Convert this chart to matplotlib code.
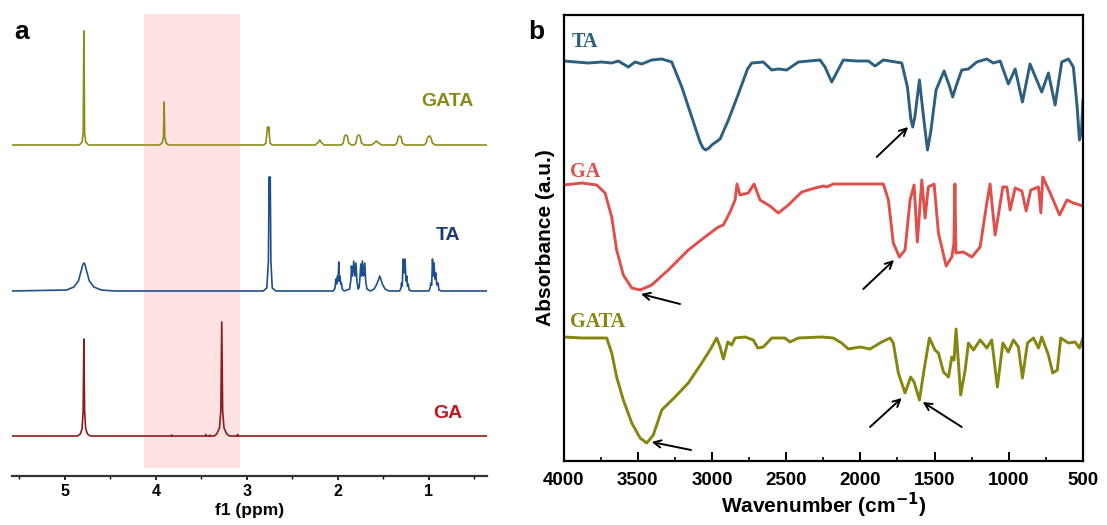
import matplotlib
matplotlib.use("Agg")
import matplotlib.pyplot as plt
from matplotlib.ticker import MultipleLocator

plt.rcParams['font.family'] = ['Liberation Sans', 'DejaVu Sans']

# ---------------- Panel a : 1H NMR (ppm, intensity relative to baseline) ----------------
gata_nmr_ppm = [5.58, 4.84, 4.81, 4.798, 4.79, 4.782, 4.77, 4.74,
                3.96, 3.93, 3.915, 3.908, 3.901, 3.886, 3.86,
                2.81, 2.79, 2.772, 2.765, 2.758, 2.745, 2.72,
                2.25, 2.22, 2.198, 2.175, 2.15,
                1.96, 1.94, 1.925, 1.91, 1.895, 1.88, 1.85,
                1.82, 1.80, 1.785, 1.77, 1.755, 1.74, 1.71,
                1.63, 1.60, 1.575, 1.55, 1.52,
                1.37, 1.35, 1.335, 1.32, 1.305, 1.29, 1.26,
                1.05, 1.03, 1.01, 0.99, 0.975, 0.96, 0.93, 0.36]
gata_nmr_int = [0, 0, 0.03, 0.12, 1.14, 0.12, 0.03, 0,
                0, 0.02, 0.08, 0.43, 0.08, 0.02, 0,
                0, 0.02, 0.18, 0.14, 0.18, 0.02, 0,
                0, 0.02, 0.05, 0.02, 0,
                0, 0.02, 0.09, 0.10, 0.09, 0.02, 0,
                0, 0.02, 0.09, 0.10, 0.09, 0.02, 0,
                0, 0.02, 0.04, 0.02, 0,
                0, 0.02, 0.08, 0.09, 0.08, 0.02, 0,
                0, 0.02, 0.08, 0.09, 0.07, 0.02, 0, 0]

ta_nmr_ppm = [5.58, 4.98, 4.90, 4.85, 4.82, 4.80, 4.79, 4.78, 4.76, 4.73, 4.68, 4.60, 4.45,
              2.82, 2.78, 2.762, 2.755, 2.749, 2.742, 2.735, 2.72, 2.68,
              2.05, 2.03, 2.022, 2.012, 2.003, 1.996, 1.989, 1.982, 1.975, 1.968, 1.960, 1.95, 1.93,
              1.87, 1.855, 1.85, 1.838, 1.824, 1.812, 1.80, 1.79, 1.775,
              1.765, 1.757, 1.747, 1.738, 1.729, 1.716, 1.703, 1.693, 1.68, 1.64,
              1.60, 1.57, 1.538, 1.51, 1.48, 1.44,
              1.32, 1.305, 1.300, 1.291, 1.282, 1.271, 1.260, 1.251, 1.242, 1.234, 1.227, 1.215, 1.19,
              1.00, 0.985, 0.978, 0.968, 0.959, 0.950, 0.942, 0.932, 0.923, 0.912, 0.898, 0.888, 0.86,
              0.36]
ta_nmr_int = [0, 0.01, 0.04, 0.10, 0.20, 0.27, 0.28, 0.27, 0.20, 0.10, 0.04, 0.01, 0,
              0, 0.03, 0.3, 1.14, 0.85, 1.14, 0.3, 0.03, 0,
              0, 0.03, 0.12, 0.07, 0.15, 0.10, 0.29, 0.10, 0.15, 0.07, 0.08, 0.02, 0,
              0.02, 0.12, 0.25, 0.15, 0.30, 0.15, 0.28, 0.10, 0.02,
              0.04, 0.12, 0.27, 0.15, 0.30, 0.15, 0.28, 0.10, 0.02, 0,
              0.02, 0.07, 0.15, 0.07, 0.02, 0,
              0, 0.03, 0.08, 0.05, 0.32, 0.18, 0.32, 0.10, 0.15, 0.05, 0.07, 0.01, 0,
              0, 0.03, 0.08, 0.06, 0.32, 0.15, 0.28, 0.12, 0.18, 0.06, 0.08, 0.01, 0,
              0]

ga_nmr_ppm = [5.58, 4.86, 4.83, 4.81, 4.798, 4.79, 4.782, 4.77, 4.75, 4.72,
              3.83, 3.825, 3.82, 3.455, 3.45, 3.445, 3.41, 3.405, 3.40,
              3.36, 3.33, 3.30, 3.285, 3.275, 3.265, 3.25, 3.22, 3.19,
              3.105, 3.10, 3.095, 0.36]
ga_nmr_int = [0, 0, 0.02, 0.07, 0.25, 0.97, 0.25, 0.07, 0.02, 0,
              0, 0.01, 0, 0, 0.015, 0, 0, 0.01, 0,
              0, 0.02, 0.08, 0.25, 1.14, 0.25, 0.08, 0.02, 0,
              0, 0.015, 0, 0]

nmr_names = ['GATA', 'TA', 'GA']
nmr_offsets = [3.31, 1.85, 0.40]
nmr_colors = ['#8c8c1c', '#1f4f8f', '#8c1c1c']
nmr_label_colors = ['#8a8a1a', '#1b3a7c', '#c4161c']
nmr_ticks = [5, 4, 3, 2, 1]
highlight_ppm = (4.13, 3.07)

# ---------------- Panel b : FTIR (wavenumber, signal relative to baseline) ----------------
ta_ir_wn = [4000, 3833, 3743, 3675, 3631, 3563, 3518, 3473, 3406, 3338, 3271, 3203, 3136, 3080,
            3060, 3042, 3020, 3001, 2945, 2889, 2822, 2760, 2732, 2654, 2597, 2553, 2496, 2418,
            2272, 2238, 2193, 2115, 2024, 1946, 1901, 1845, 1721, 1683, 1660, 1647, 1632, 1602,
            1575, 1548, 1525, 1490, 1436, 1400, 1378, 1355, 1317, 1272, 1216, 1148, 1104, 1058,
            1003, 957, 908, 857, 778, 733, 688, 643, 598, 565, 540, 524, 510, 500]
ta_ir_val = [0.00, -0.02, -0.01, -0.02, 0.00, -0.06, -0.01, -0.03, 0.01, 0.02, -0.01, -0.26, -0.56, -0.81,
             -0.87, -0.89, -0.87, -0.84, -0.78, -0.59, -0.33, -0.08, -0.02, -0.01, -0.09, -0.08, -0.09, -0.01,
             0.01, -0.06, -0.21, 0.01, 0.00, 0.00, -0.05, 0.01, -0.02, -0.26, -0.58, -0.66, -0.55, -0.19,
             -0.55, -0.89, -0.70, -0.29, -0.10, -0.25, -0.36, -0.25, -0.09, -0.08, -0.01, 0.02, -0.02, 0.00,
             -0.23, -0.08, -0.41, -0.03, -0.31, -0.12, -0.44, -0.01, 0.02, -0.06, -0.45, -0.79, -0.70, -0.39]

ga_ir_wn = [4000, 3877, 3776, 3720, 3675, 3642, 3597, 3540, 3484, 3406, 3294, 3159, 3047, 2957,
            2923, 2878, 2844, 2831, 2811, 2755, 2716, 2676, 2609, 2553, 2485, 2395, 2305, 2249,
            2227, 2182, 2002, 1845, 1811, 1778, 1737, 1699, 1665, 1638, 1616, 1586, 1564, 1542,
            1503, 1474, 1422, 1384, 1370, 1363, 1356, 1306, 1249, 1193, 1148, 1126, 1092, 1040,
            1013, 991, 957, 912, 883, 852, 800, 784, 771, 721, 658, 608, 565, 500]
ga_ir_val = [-0.01, 0.01, -0.01, -0.09, -0.33, -0.66, -0.91, -1.04, -1.06, -1.01, -0.86, -0.66, -0.53, -0.43,
             -0.41, -0.28, -0.16, 0.00, -0.11, -0.09, 0.00, -0.16, -0.22, -0.29, -0.21, -0.08, -0.04, -0.02,
             -0.03, 0.00, 0.00, 0.00, -0.16, -0.59, -0.73, -0.66, -0.16, -0.01, -0.58, 0.04, -0.34, -0.03,
             0.00, -0.49, -0.82, -0.73, -0.60, 0.00, -0.69, -0.68, -0.73, -0.63, -0.19, 0.00, -0.51, -0.03,
             -0.03, -0.26, -0.04, -0.07, -0.27, -0.06, -0.03, -0.29, 0.07, -0.09, -0.31, -0.16, -0.19, -0.22]

gata_ir_wn = [4000, 3877, 3709, 3675, 3642, 3597, 3540, 3484, 3439, 3395, 3338, 3249, 3159, 3069,
              3013, 2968, 2945, 2923, 2893, 2867, 2844, 2777, 2721, 2691, 2654, 2597, 2508, 2474,
              2418, 2260, 2182, 2126, 2081, 2002, 1935, 1856, 1800, 1778, 1744, 1699, 1661, 1638,
              1602, 1571, 1535, 1497, 1474, 1440, 1406, 1384, 1369, 1355, 1342, 1324, 1294, 1272,
              1238, 1193, 1148, 1115, 1077, 1040, 1003, 969, 935, 908, 874, 834, 800, 778,
              733, 704, 673, 650, 598, 553, 524, 500]
gata_ir_val = [0.01, 0.00, 0.00, -0.15, -0.39, -0.62, -0.85, -1.00, -1.05, -0.97, -0.72, -0.59, -0.45, -0.25,
               -0.12, 0.00, -0.09, -0.21, -0.04, -0.07, 0.00, 0.01, -0.02, -0.10, -0.09, 0.00, 0.00, -0.04,
               0.00, 0.01, 0.00, -0.05, -0.11, -0.09, -0.11, -0.04, 0.00, -0.05, -0.35, -0.55, -0.39, -0.44,
               -0.62, -0.32, 0.00, -0.12, -0.15, -0.34, -0.39, -0.19, -0.22, 0.09, -0.19, -0.57, -0.32, -0.05,
               -0.12, -0.02, -0.10, -0.02, -0.49, -0.05, -0.14, -0.02, -0.09, -0.40, -0.05, 0.00, -0.10, 0.01,
               -0.17, -0.35, -0.32, 0.00, -0.05, -0.04, -0.10, 0.00]

ir_names = ['TA', 'GA', 'GATA']
ir_offsets = [4.00, 2.77, 1.23]
ir_colors = ['#2c5f80', '#e0504b', '#85850f']
ir_ticks = [4000, 3500, 3000, 2500, 2000, 1500, 1000, 500]

W, H = 1107, 525
fig = plt.figure(figsize=(W / 100, H / 100), dpi=100)

# ---------------- Panel a ----------------
axa = fig.add_axes([12 / W, 49 / H, 475 / W, 462 / H])
axa.set_xlim(5.58, 0.36)
axa.set_ylim(0, 4.62)
axa.axvspan(highlight_ppm[0], highlight_ppm[1], ymin=0.017, ymax=1.0,
            color='#fde1e3', lw=0, zorder=0)
for ppm, inten, off, c in zip([gata_nmr_ppm, ta_nmr_ppm, ga_nmr_ppm],
                              [gata_nmr_int, ta_nmr_int, ga_nmr_int],
                              nmr_offsets, nmr_colors):
    axa.plot(ppm, [off + v for v in inten], color=c, lw=1.2, zorder=2)
label_y = [3.75, 2.41, 0.63]
for name, ly, c in zip(nmr_names, label_y, nmr_label_colors):
    axa.text(0.79, ly, name, color=c, fontsize=14, fontweight='bold',
             ha='center', va='center')
for s in ['left', 'right', 'top']:
    axa.spines[s].set_visible(False)
axa.spines['bottom'].set_linewidth(1.6)
axa.spines['bottom'].set_color('#333333')
axa.set_yticks([])
axa.set_xticks(nmr_ticks)
axa.xaxis.set_minor_locator(MultipleLocator(0.5))
axa.tick_params(axis='x', which='major', direction='out', length=3, width=1.2,
                labelsize=11.5, pad=3)
axa.tick_params(axis='x', which='minor', direction='out', length=2, width=1.0)
for lab in axa.get_xticklabels():
    lab.set_fontweight('bold')
axa.set_xlabel('f1 (ppm)', fontsize=12.5, fontweight='bold', labelpad=3)
fig.text(14 / W, 1 - 32 / H, 'a', fontsize=19, fontweight='bold', ha='left', va='center')

# ---------------- Panel b ----------------
axb = fig.add_axes([563.5 / W, 64 / H, 519.5 / W, 446 / H])
axb.set_xlim(4000, 500)
axb.set_ylim(0, 4.46)
for wn, val, off, c in zip([ta_ir_wn, ga_ir_wn, gata_ir_wn],
                           [ta_ir_val, ga_ir_val, gata_ir_val],
                           ir_offsets, ir_colors):
    axb.plot(wn, [off + v for v in val], color=c, lw=2.1, solid_joinstyle='round')
label_pos = [(3943, 4.19), (3956, 2.89), (3956, 1.39)]
for name, (lx, ly), c in zip(ir_names, label_pos, ir_colors):
    axb.text(lx, ly, name, color=c, fontsize=14.5, fontweight='bold',
             family='Liberation Serif', ha='left', va='center')

arrows = [((1890, 3.04), (1678, 3.34)),
          ((3215, 1.57), (3478, 1.67)),
          ((1980, 1.72), (1773, 2.01)),
          ((3141, 0.11), (3406, 0.19)),
          ((1935, 0.34), (1721, 0.63)),
          ((1317, 0.34), (1580, 0.59))]
for tail, head in arrows:
    axb.annotate('', xy=head, xytext=tail,
                 arrowprops=dict(arrowstyle='->', lw=1.4, color='black',
                                 mutation_scale=13, shrinkA=0, shrinkB=0))

for s in axb.spines.values():
    s.set_linewidth(1.6)
axb.set_yticks([])
axb.set_xticks(ir_ticks)
axb.xaxis.set_minor_locator(MultipleLocator(250))
axb.tick_params(axis='x', which='major', direction='in', length=6.5, width=1.4,
                labelsize=13.5, pad=8)
axb.tick_params(axis='x', which='minor', direction='in', length=3, width=1.2)
for lab in axb.get_xticklabels():
    lab.set_fontweight('bold')
axb.set_xlabel('Wavenumber (cm$^{\\mathbf{-1}}$)', fontsize=15, fontweight='bold', labelpad=1)
axb.set_ylabel('Absorbance (a.u.)', fontsize=15, fontweight='bold', labelpad=6)
fig.text(536 / W, 1 - 32 / H, 'b', fontsize=19, fontweight='bold', ha='center', va='center')

fig.savefig('out.png', dpi=100)
